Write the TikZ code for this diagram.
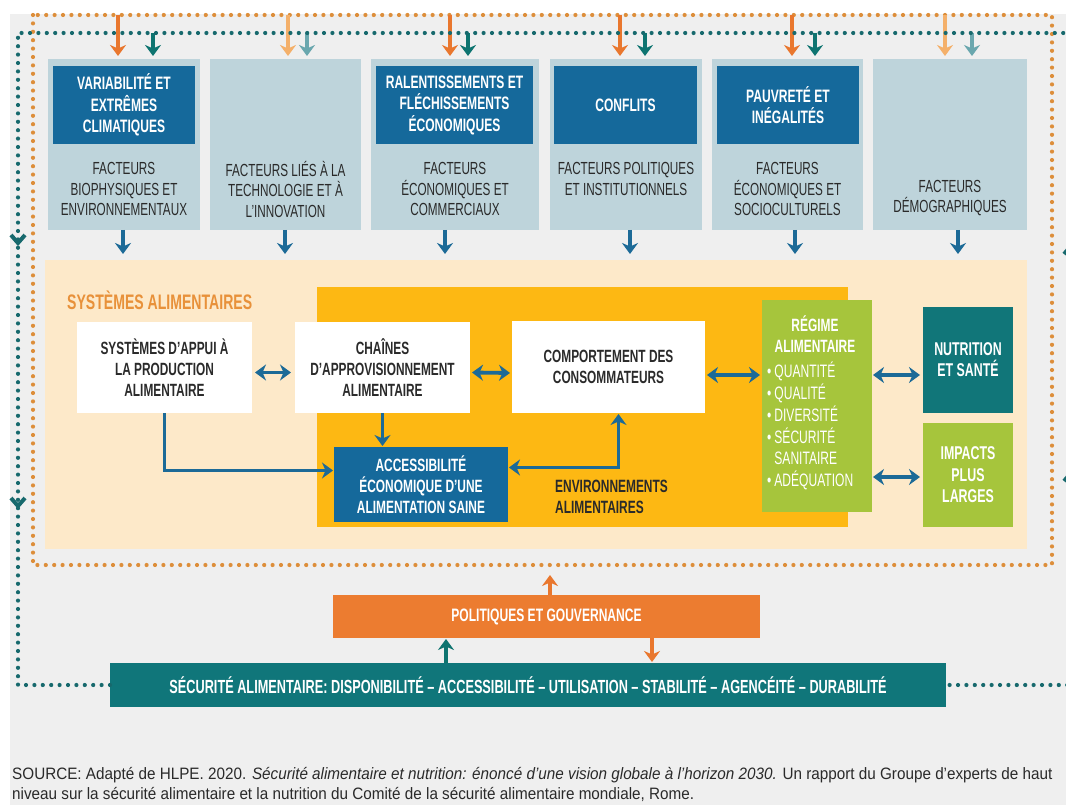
\documentclass[tikz,border=0pt]{standalone}
\usepackage{fontspec}
\setmainfont{Liberation Sans}[FakeStretch=0.67]
\newfontfamily\srcfont{Liberation Sans}[FakeStretch=0.925]
\usetikzlibrary{arrows.meta,calc}
\definecolor{bggray}{HTML}{EFEFEF}
\definecolor{factbg}{HTML}{BED4DB}
\definecolor{hdblue}{HTML}{15699B}
\definecolor{dtext}{HTML}{2A2A2A}
\definecolor{orA}{HTML}{E9772E}
\definecolor{orL}{HTML}{F4B06A}
\definecolor{tlA}{HTML}{0E7470}
\definecolor{tlL}{HTML}{6AA7AE}
\definecolor{odot}{HTML}{DD8E3A}
\definecolor{tdot}{HTML}{17696D}
\definecolor{fsbg}{HTML}{FDE9C9}
\definecolor{yel}{HTML}{FDB813}
\definecolor{grn}{HTML}{A6C53C}
\definecolor{nut}{HTML}{117679}
\definecolor{blu}{HTML}{1C6A97}
\definecolor{sysor}{HTML}{E8913A}
\definecolor{pol}{HTML}{EC7C30}
\definecolor{sec}{HTML}{10767A}
\begin{document}
\begin{tikzpicture}[x=1pt,y=-1pt,
  box/.style={draw=none,inner sep=0pt,outer sep=0pt,rectangle},
  fact/.style={box,fill=factbg},
  hdr/.style={box,fill=hdblue,text=white,align=center,font=\fontsize{18}{21.5}\selectfont\bfseries},
  ftxt/.style={inner sep=0pt,text=dtext,align=center,font=\fontsize{17.5}{20.5}\selectfont},
  wbox/.style={box,fill=white,text=dtext,align=center,font=\fontsize{17.7}{21}\selectfont\bfseries},
  cbox/.style={box,text=white,align=center,font=\fontsize{17.8}{21}\selectfont\bfseries},
  odotted/.style={draw=odot,line width=4.2pt,line cap=round,dash pattern=on 0pt off 8.4pt},
  tdotted/.style={draw=tdot,line width=4.2pt,line cap=round,dash pattern=on 0pt off 8.4pt},
  tip/.style={-{Stealth[length=11pt,width=16pt,inset=3.5pt]}},
  dtip/.style={{Stealth[length=11pt,width=16pt,inset=3.5pt]}-{Stealth[length=11pt,width=16pt,inset=3.5pt]}},
  oarr/.style={tip,draw=orA,line width=4pt},
  tarr/.style={tip,draw=tlA,line width=4pt},
  olarr/.style={tip,draw=orL,line width=4pt},
  tlarr/.style={tip,draw=tlL,line width=4pt},
  barr/.style={tip,draw=blu,line width=3.8pt},
  dbarr/.style={dtip,draw=blu,line width=3.8pt},
  chev/.style={draw=tdot,line width=4pt,line join=miter}
]
\useasboundingbox (0,0) rectangle (1066,805);
\fill[white] (0,0) rectangle (1066,805);
\fill[bggray] (10,14) rectangle (1066,805);

% dotted loops
\coordinate (otl) at (33,15);
\coordinate (obr) at (1052,565);
\draw[odotted] (otl) rectangle (obr);

% factor boxes
\node[fact,minimum width=152,minimum height=171] (f1) at (124,144.5) {};
\node[fact,minimum width=151,minimum height=171] (f2) at (285.5,144.5) {};
\node[fact,minimum width=168,minimum height=171] (f3) at (455,144.5) {};
\node[fact,minimum width=152,minimum height=171] (f4) at (626,144.5) {};
\node[fact,minimum width=151,minimum height=171] (f5) at (787.5,144.5) {};
\node[fact,minimum width=154,minimum height=171] (f6) at (950,144.5) {};

\node[hdr,minimum width=142,minimum height=78] (h1) at (124,105) {VARIABILITÉ ET\\EXTRÊMES\\CLIMATIQUES};
\node[hdr,minimum width=157,minimum height=78] (h3) at (454.5,105) {RALENTISSEMENTS ET\\FLÉCHISSEMENTS\\ÉCONOMIQUES};
\node[hdr,minimum width=143,minimum height=78] (h4) at (625.5,105) {CONFLITS};
\node[hdr,minimum width=142,minimum height=78] (h5) at (788,105) {PAUVRETÉ ET\\INÉGALITÉS};

\node[ftxt] (t1) at (124,189) {FACTEURS\\BIOPHYSIQUES ET\\ENVIRONNEMENTAUX};
\node[ftxt] (t2) at (285.5,189) {FACTEURS LIÉS À LA\\TECHNOLOGIE ET À\\L’INNOVATION};
\node[ftxt] (t3) at (455,189) {FACTEURS\\ÉCONOMIQUES ET\\COMMERCIAUX};
\node[ftxt] (t4) at (626,179) {FACTEURS POLITIQUES\\ET INSTITUTIONNELS};
\node[ftxt] (t5) at (787.5,189) {FACTEURS\\ÉCONOMIQUES ET\\SOCIOCULTURELS};
\node[ftxt] (t6) at (950,198) {FACTEURS\\DÉMOGRAPHIQUES};

% top arrows
\draw[oarr] ($(f1.north)+(-6,-44)$) -- ($(f1.north)+(-6,-3)$);
\draw[tarr] ($(f1.north)+(29,-26)$) -- ($(f1.north)+(29,-3)$);
\draw[olarr] ($(f2.north)+(2.5,-44)$) -- ($(f2.north)+(2.5,-3)$);
\draw[tlarr] ($(f2.north)+(21.5,-26)$) -- ($(f2.north)+(21.5,-3)$);
\draw[oarr] ($(f3.north)+(-5,-44)$) -- ($(f3.north)+(-5,-3)$);
\draw[tarr] ($(f3.north)+(13,-26)$) -- ($(f3.north)+(13,-3)$);
\draw[oarr] ($(f4.north)+(-6,-44)$) -- ($(f4.north)+(-6,-3)$);
\draw[tarr] ($(f4.north)+(19,-26)$) -- ($(f4.north)+(19,-3)$);
\draw[oarr] ($(f5.north)+(4.5,-44)$) -- ($(f5.north)+(4.5,-3)$);
\draw[tarr] ($(f5.north)+(27.5,-26)$) -- ($(f5.north)+(27.5,-3)$);
\draw[olarr] ($(f6.north)+(-5,-44)$) -- ($(f6.north)+(-5,-3)$);
\draw[tlarr] ($(f6.north)+(22,-26)$) -- ($(f6.north)+(22,-3)$);

% food systems
\node[box,fill=fsbg,minimum width=982,minimum height=289] (fs) at (536,404.5) {};
\node[box,fill=yel,minimum width=531,minimum height=240] (ye) at (582.5,407) {};
\node[anchor=west,inner sep=0pt,text=sysor,font=\fontsize{21}{22}\selectfont\bfseries] (stitle) at (67,300) {SYSTÈMES ALIMENTAIRES};

% factor -> food system arrows
\draw[barr] ($(f1.south)+(-1,0)$) -- ($(f1.south)+(-1,24)$);
\draw[barr] ($(f2.south)+(-0.5,0)$) -- ($(f2.south)+(-0.5,24)$);
\draw[barr] ($(f3.south)+(-10,0)$) -- ($(f3.south)+(-10,24)$);
\draw[barr] ($(f4.south)+(4,0)$) -- ($(f4.south)+(4,24)$);
\draw[barr] ($(f5.south)+(7.5,0)$) -- ($(f5.south)+(7.5,24)$);
\draw[barr] ($(f6.south)+(8,0)$) -- ($(f6.south)+(8,24)$);

\node[wbox,minimum width=175,minimum height=91] (sa) at (164.5,367.5) {SYSTÈMES D’APPUI À\\LA PRODUCTION\\ALIMENTAIRE};
\node[wbox,minimum width=175,minimum height=91] (ch) at (382.5,367.5) {CHAÎNES\\D’APPROVISIONNEMENT\\ALIMENTAIRE};
\node[wbox,minimum width=193,minimum height=92] (cc) at (608.5,367) {COMPORTEMENT DES\\CONSOMMATEURS};
\node[cbox,fill=hdblue,minimum width=174,minimum height=75] (ac) at (421,484.5) {ACCESSIBILITÉ\\ÉCONOMIQUE D’UNE\\ALIMENTATION SAINE};
\node[anchor=north west,inner sep=0pt,align=left,text=dtext,font=\fontsize{17.8}{21}\selectfont\bfseries] (env) at (555,480) {ENVIRONNEMENTS\\ALIMENTAIRES};

\node[box,fill=grn,minimum width=110,minimum height=212] (rg) at (817,406) {};
\node[inner sep=0pt,text=white,align=center,font=\fontsize{17.8}{21.5}\selectfont\bfseries] (rgt) at (815,334) {RÉGIME\\ALIMENTAIRE};
\node[anchor=north west,inner sep=0pt,text=white,font=\fontsize{18}{21.2}\selectfont] (rgl) at (767,362)
 {\begin{tabular}{@{}l@{\hspace{3pt}}l@{}}•&QUANTITÉ\\•&QUALITÉ\\•&DIVERSITÉ\\•&SÉCURITÉ\\&SANITAIRE\\•&ADÉQUATION\end{tabular}};

\node[cbox,fill=nut,minimum width=90,minimum height=106,font=\fontsize{18.5}{21}\selectfont\bfseries] (nu) at (968,360) {NUTRITION\\ET SANTÉ};
\node[cbox,fill=grn,minimum width=90,minimum height=104,font=\fontsize{18.5}{21.5}\selectfont\bfseries] (im) at (968,475) {IMPACTS\\PLUS\\LARGES};

% food system connectors
\draw[dbarr] ($(sa.east)+(3,5)$) -- ($(ch.west)+(-4,5)$);
\draw[dbarr] ($(ch.east)+(2,5)$) -- ($(cc.west)+(-2,6)$);
\draw[dbarr] ($(cc.east)+(2,8)$) -- ($(rg.west)+(-2,-31)$);
\draw[dbarr] ($(rg.east)+(1,-31)$) -- ($(nu.west)+(-3,15)$);
\draw[dbarr] ($(rg.east)+(1,71)$) -- ($(im.west)+(-3,2)$);
\draw[barr] (ch.south) -- ($(ch.south |- ac.north)+(0,-1)$);
\draw[barr] (sa.south) |- ($(ac.west)+(-1,-14)$);
\draw[dbarr] ($(ac.east)+(1,-17)$) -| ($(cc.south)+(10,1)$);

% policies & food security
\node[cbox,fill=pol,minimum width=427,minimum height=43,font=\fontsize{18}{20}\selectfont\bfseries] (po) at (546.5,616.5) {POLITIQUES ET GOUVERNANCE};
\node[cbox,fill=sec,minimum width=836,minimum height=44,font=\fontsize{19}{21}\selectfont\bfseries] (se) at (528,685) {SÉCURITÉ ALIMENTAIRE: DISPONIBILITÉ – ACCESSIBILITÉ – UTILISATION – STABILITÉ – AGENCÉITÉ – DURABILITÉ};

\draw[tdotted] (se.west) -| (18,33) -| (1071,685) -- (se.east);
\coordinate (ch1) at (18,243);
\coordinate (ch2) at (18,506);
\coordinate (ch3) at (1071,246);
\coordinate (ch4) at (1071,473);
\draw[chev] ($(ch1)+(-7,-8)$) -- (ch1) -- ($(ch1)+(7,-8)$);
\draw[chev] ($(ch2)+(-7,-8)$) -- (ch2) -- ($(ch2)+(7,-8)$);
\draw[chev] ($(ch3)+(-7,8)$) -- (ch3) -- ($(ch3)+(7,8)$);
\draw[chev] ($(ch4)+(-7,8)$) -- (ch4) -- ($(ch4)+(7,8)$);

\draw[oarr] ($(po.north)+(3.5,0)$) -- ($(po.north)+(3.5,-20)$);
\coordinate (tu) at ($(se.north)+(-82,0)$);
\draw[tarr] (tu) -- ($(tu |- po.south)+(0,1)$);
\coordinate (od) at ($(po.south)+(105.5,0)$);
\draw[oarr] (od) -- ($(od |- se.north)+(0,-1)$);

% source
\node[anchor=west,inner sep=0pt,text=dtext,align=left,font=\srcfont\fontsize{16.5}{20}\selectfont] (src) at (12,784)
 {SOURCE: Adapté de HLPE. 2020. \textit{Sécurité alimentaire et nutrition: énoncé d’une vision globale à l’horizon 2030.} Un rapport du Groupe d’experts de haut\\niveau sur la sécurité alimentaire et la nutrition du Comité de la sécurité alimentaire mondiale, Rome.};
\end{tikzpicture}
\end{document}
